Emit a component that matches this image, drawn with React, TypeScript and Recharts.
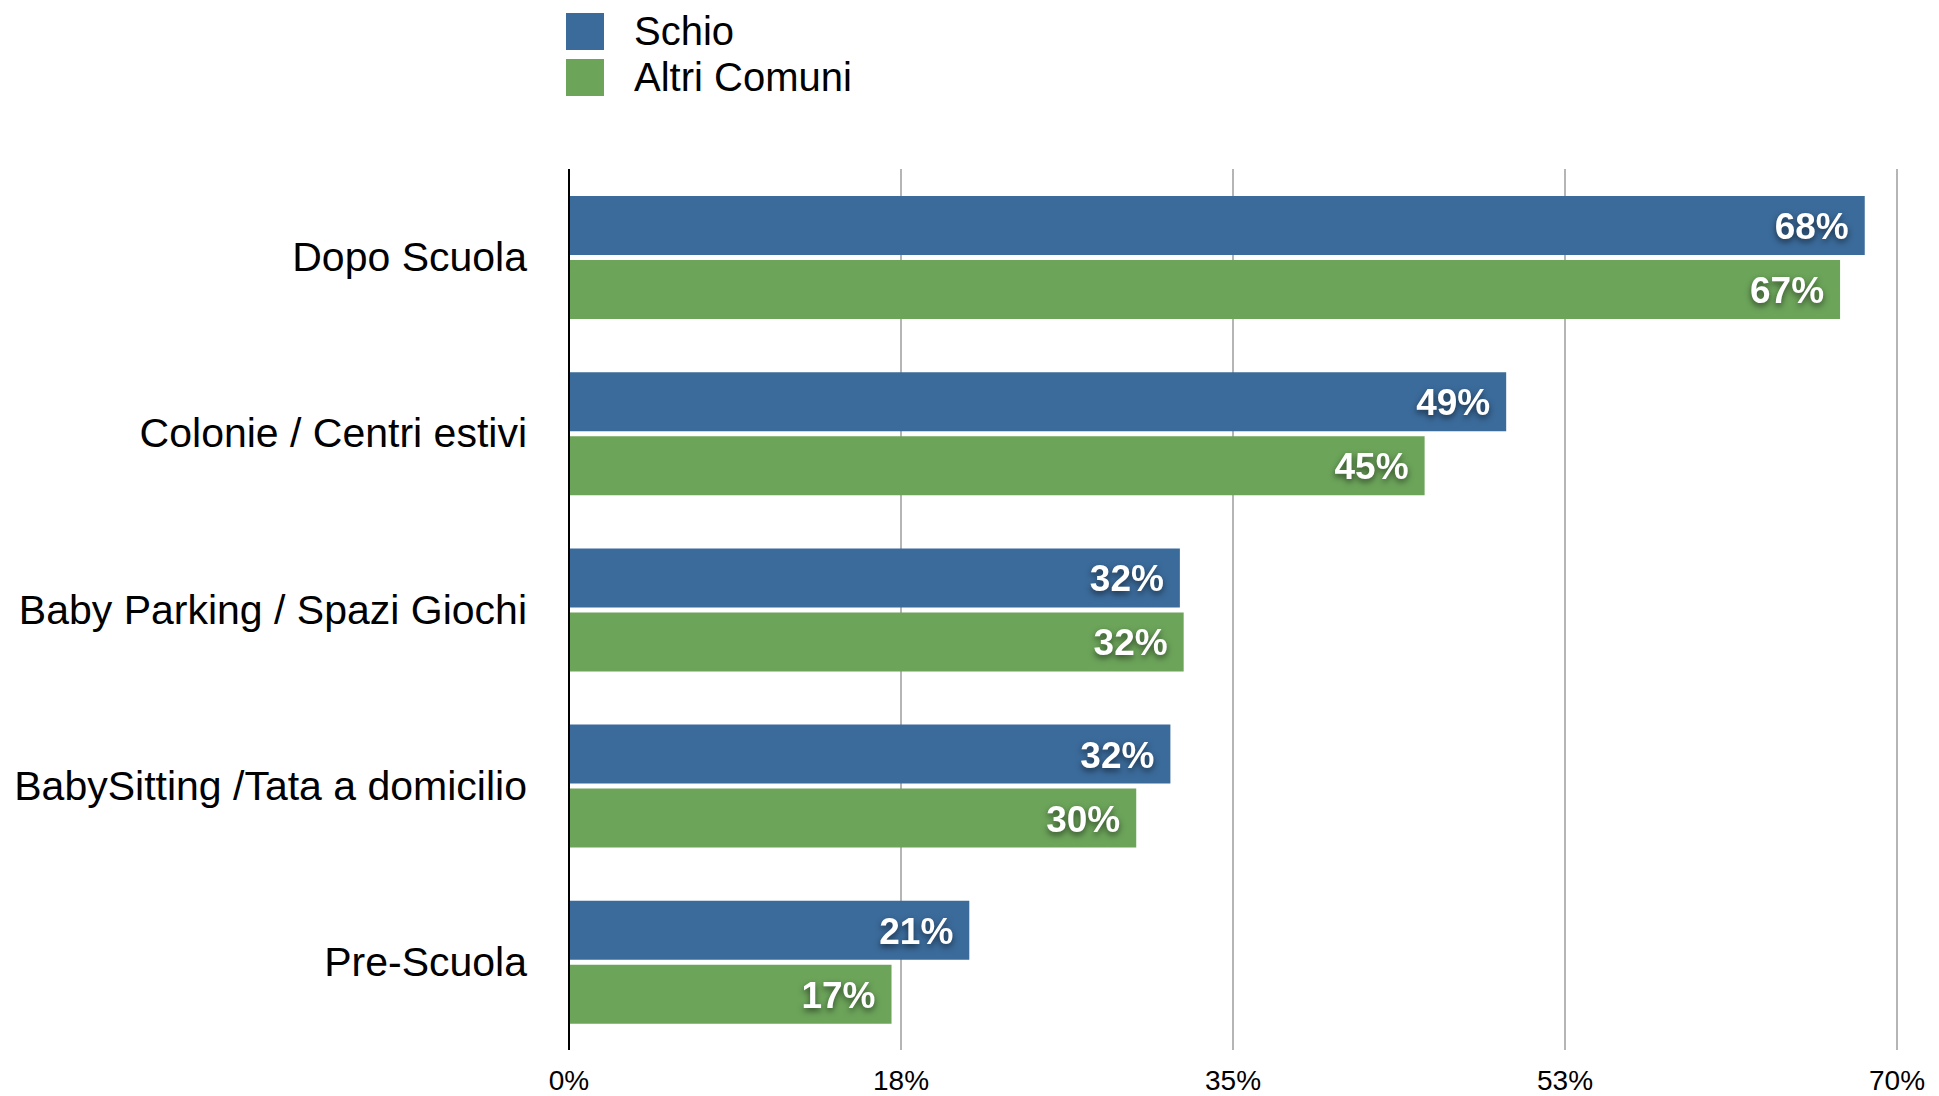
import React from "react";
import { BarChart, Bar, XAxis, YAxis, CartesianGrid, LabelList } from "recharts";

const categories = [
    "Dopo Scuola",
    "Colonie / Centri estivi",
    "Baby Parking / Spazi Giochi",
    "BabySitting /Tata a domicilio",
    "Pre-Scuola",
];
const schio = [68.3, 49.4, 32.2, 31.7, 21.1];
const altriComuni = [67.0, 45.1, 32.4, 29.9, 17.0];
const xTicks = [0, 17.5, 35, 52.5, 70];

const series = [
    { key: "schio", name: "Schio", color: "#3b6b9b" },
    { key: "altri", name: "Altri Comuni", color: "#6ca45a" },
];

const data = categories.map((c, i) => ({ name: c, schio: schio[i], altri: altriComuni[i] }));

const FONT = "'Liberation Sans', Arial, Helvetica, sans-serif";

const BarValue = (props: any) => {
    const { x, y, width, height, value } = props;
    return (
        <text
            x={x + width - 16}
            y={y + height / 2 + 1}
            textAnchor="end"
            dominantBaseline="central"
            fill="#fff"
            fontSize={37}
            fontWeight="bold"
            fontFamily={FONT}
            style={{ filter: "drop-shadow(0px 3px 3px rgba(0,0,0,0.55))" }}
        >
            {Math.round(value)}%
        </text>
    );
};

const CategoryTick = (props: any) => (
    <text x={props.x} y={props.y} textAnchor="end" dominantBaseline="central" fontSize={41} fontFamily={FONT} fill="#000">
        {props.payload.value}
    </text>
);

const PercentTick = (props: any) => (
    <text x={props.x} y={props.y + 28} textAnchor="middle" dominantBaseline="central" fontSize={28} fontFamily={FONT} fill="#000">
        {Math.round(props.payload.value)}%
    </text>
);

const App = () => {
    return (
        <div style={{ position: "absolute", left: 0, top: 0, width: 1939, height: 1096, background: "#fff" }}>
            <div style={{ position: "absolute", left: 566, top: 8, fontFamily: FONT, fontSize: 40, color: "#000" }}>
                {series.map((s) => (
                    <div key={s.key} style={{ display: "flex", alignItems: "center", height: 46 }}>
                        <div style={{ width: 38, height: 37, background: s.color, marginRight: 30 }} />
                        <span>{s.name}</span>
                    </div>
                ))}
            </div>
            <BarChart
                width={1939}
                height={1096}
                data={data}
                layout="vertical"
                margin={{ top: 169, right: 42, bottom: 0, left: 0 }}
                barSize={59}
                barGap={5}
            >
                <CartesianGrid horizontal={false} stroke="#b5b5b5" strokeWidth={2} />
                <XAxis
                    type="number"
                    domain={[0, 70]}
                    ticks={xTicks}
                    height={46}
                    axisLine={false}
                    tickLine={false}
                    tickSize={0}
                    tick={<PercentTick />}
                    interval={0}
                />
                <YAxis
                    type="category"
                    dataKey="name"
                    width={569}
                    axisLine={{ stroke: "#000", strokeWidth: 2 }}
                    tickLine={false}
                    tickSize={0}
                    tickMargin={42}
                    tick={<CategoryTick />}
                    interval={0}
                />
                {series.map((s) => (
                    <Bar key={s.key} dataKey={s.key} name={s.name} fill={s.color} isAnimationActive={false}>
                        <LabelList dataKey={s.key} content={<BarValue />} />
                    </Bar>
                ))}
            </BarChart>
        </div>
    );
};

export default App;
